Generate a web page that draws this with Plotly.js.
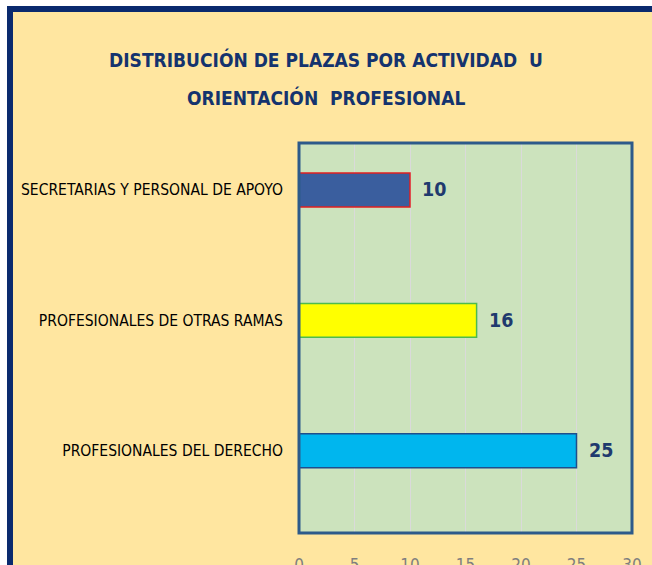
<!DOCTYPE html>
<html>
<head>
<meta charset="utf-8">
<script src="https://cdn.plot.ly/plotly-3.0.1.min.js"></script>
<style>
html,body{margin:0;padding:0;background:#ffffff;width:652px;height:565px;overflow:hidden;}
#frame{position:absolute;left:7px;top:6px;width:645px;height:559px;border-left:6px solid #0A2A6E;border-top:6px solid #0A2A6E;box-sizing:border-box;background:#FFE6A0;}
#chart{width:639px;height:553px;}
</style>
</head>
<body>
<div id="frame"><div id="chart"></div></div>
<script>
const categories = ["PROFESIONALES DEL DERECHO", "PROFESIONALES DE OTRAS RAMAS", "SECRETARIAS Y PERSONAL DE APOYO"];
const values = [25, 16, 10];
const barColors = ["#00B6EE", "#FFFF00", "#3A5E9E"];
const barLineColors = ["#1F4E8C", "#4DBB4D", "#E02020"];
const xTicks = [0, 5, 10, 15, 20, 25, 30];
const titleLine1 = "DISTRIBUCIÓN DE PLAZAS POR ACTIVIDAD  U";
const titleLine2 = "ORIENTACIÓN  PROFESIONAL";

const narrow = "DejaVu Sans Condensed, Liberation Sans Narrow, Arial Narrow, sans-serif";

const trace = {
  type: "bar",
  orientation: "h",
  y: categories,
  x: values,
  width: 0.26,
  marker: {color: barColors, line: {color: barLineColors, width: 1.5}},
  hoverinfo: "none"
};

const annotations = categories.map((c, i) => ({
  x: values[i], y: c, xref: "x", yref: "y",
  text: String(values[i]), showarrow: false,
  xanchor: "left", yanchor: "middle", xshift: 10,
  font: {family: narrow, size: 19.5, color: "#1F3A6E", weight: "bold"}
}));
annotations.push({
  xref: "paper", yref: "paper", x: (326 - 299) / 333, y: 1 + 45 / 390,
  xanchor: "center", yanchor: "middle", showarrow: false,
  text: "<b>" + titleLine2 + "</b>",
  font: {family: narrow, size: 19, color: "#14336E"}
});

const layout = {
  width: 639, height: 553,
  margin: {l: 286, r: 20, t: 131, b: 32},
  paper_bgcolor: "#FFE6A0",
  plot_bgcolor: "#CCE3BD",
  showlegend: false,
  title: {
    text: "<b>" + titleLine1 + "</b>",
    xref: "container", yref: "container",
    x: 313/639, xanchor: "center",
    y: 1 - 48/553, yanchor: "middle",
    font: {family: narrow, size: 19, color: "#14336E"}
  },
  xaxis: {
    range: [0, 30], tickvals: xTicks, ticktext: xTicks.map(String),
    showgrid: true, gridcolor: "#DADADA", gridwidth: 1,
    zeroline: false, showline: false,
    ticks: "outside", ticklen: 17, tickcolor: "rgba(0,0,0,0)",
    tickfont: {family: narrow, size: 17, color: "#7F7F7F"},
    fixedrange: true
  },
  yaxis: {
    type: "category",
    range: [-0.63, 2.36],
    showgrid: false, zeroline: false, showline: false,
    ticks: "outside", ticklen: 12, tickcolor: "rgba(0,0,0,0)",
    tickfont: {family: narrow, size: 15.5, color: "#000000"},
    fixedrange: true
  },
  annotations: annotations,
  shapes: [
    {type: "rect", xref: "paper", yref: "paper", x0: 0, x1: 1, y0: 0, y1: 1,
     line: {color: "#2D5A8A", width: 3}, fillcolor: "rgba(0,0,0,0)", layer: "above"}
  ]
};

Plotly.newPlot("chart", [trace], layout, {displayModeBar: false, staticPlot: true});
</script>
</body>
</html>
